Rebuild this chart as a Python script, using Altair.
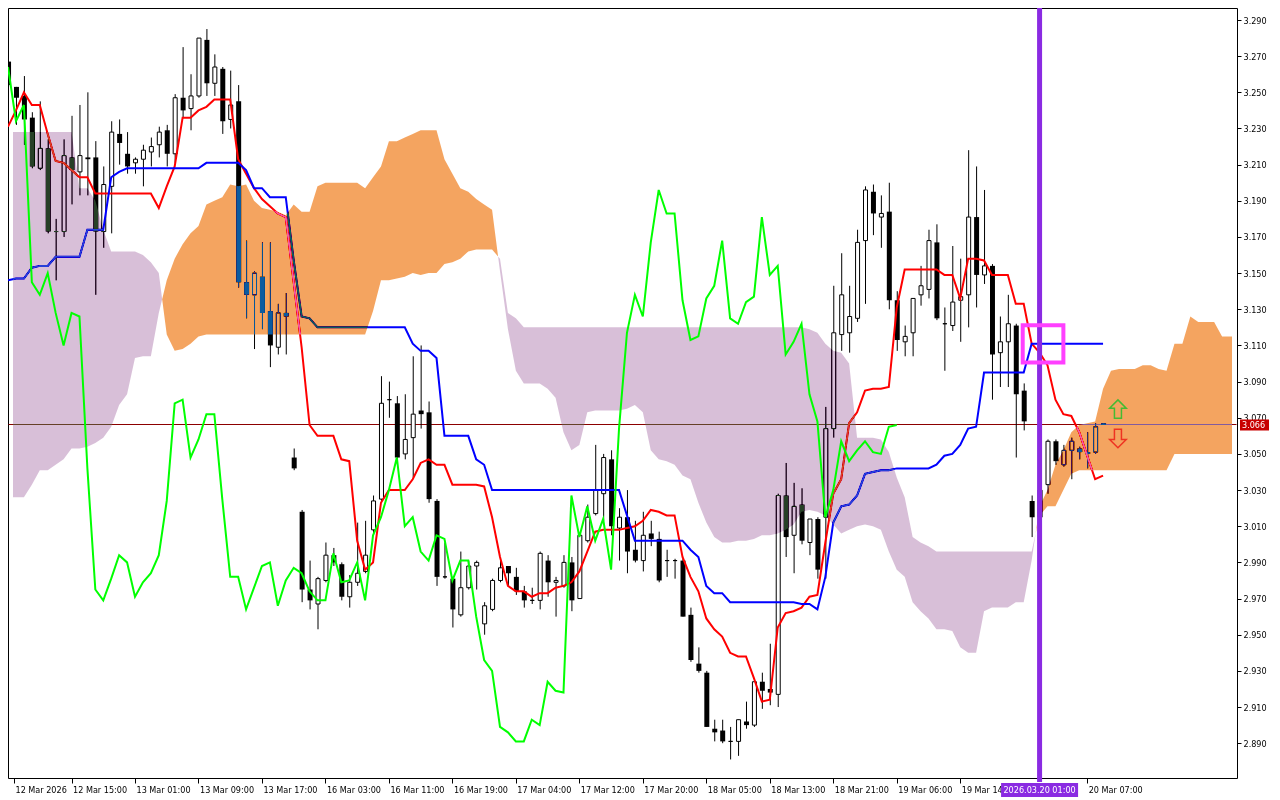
import altair as alt
import pandas as pd

# ---------------- values ----------------
# H1 candles, bar index 0..138
opens = [3.267, 3.253, 3.248, 3.236, 3.208, 3.219, 3.173, 3.173, 3.214, 3.206,
         3.214, 3.214, 3.173, 3.198, 3.227, 3.216, 3.211, 3.213, 3.217, 3.221,
         3.229, 3.216, 3.247, 3.241, 3.248, 3.279, 3.255, 3.263, 3.235, 3.245,
         3.145, 3.138, 3.148, 3.129, 3.109, 3.128, 3.048, 3.018, 2.975, 2.967,
         2.980, 2.994, 2.989, 2.971, 2.979, 2.985, 3.008, 3.025, 3.080, 3.078,
         3.050, 3.059, 3.074, 3.073, 3.024, 2.982, 2.981, 2.961, 2.976, 2.988,
         2.956, 2.964, 2.980, 2.988, 2.982, 2.974, 2.969, 2.969, 2.991, 2.979,
         2.977, 2.990, 2.970, 3.002, 3.017, 3.028, 3.047, 3.009, 3.015, 2.997,
         2.991, 3.006, 3.003, 2.991, 2.991, 2.991, 2.961, 2.934, 2.929, 2.898,
         2.897, 2.891, 2.891, 2.902, 2.900, 2.924, 2.920, 2.917, 3.027, 3.005,
         3.022, 3.001, 3.014, 3.015, 3.064, 3.116, 3.117, 3.125, 3.168, 3.195,
         3.181, 3.184, 3.135, 3.112, 3.117, 3.138, 3.141, 3.167, 3.122, 3.121,
         3.135, 3.138, 3.181, 3.149, 3.154, 3.106, 3.112, 3.121, 3.085, 3.024,
         3.015, 3.033, 3.057, 3.044, 3.052, 3.053, 3.051, 3.051, 3.067]
highs = [3.267, 3.253, 3.259, 3.239, 3.245, 3.224, 3.180, 3.224, 3.237, 3.243,
         3.250, 3.223, 3.209, 3.234, 3.235, 3.228, 3.214, 3.221, 3.225, 3.231,
         3.232, 3.249, 3.275, 3.260, 3.280, 3.285, 3.271, 3.264, 3.262, 3.254,
         3.168, 3.151, 3.167, 3.167, 3.133, 3.139, 3.053, 3.019, 2.991, 2.982,
         3.001, 2.998, 2.990, 2.983, 3.012, 3.013, 3.027, 3.093, 3.090, 3.082,
         3.083, 3.104, 3.110, 3.079, 3.025, 3.001, 2.982, 2.996, 2.991, 2.991,
         2.968, 2.981, 2.991, 2.988, 2.987, 2.977, 2.976, 2.996, 2.994, 2.982,
         2.994, 2.993, 3.005, 3.022, 3.055, 3.050, 3.052, 3.020, 3.030, 3.013,
         3.018, 3.013, 3.007, 2.997, 2.992, 2.992, 2.965, 2.943, 2.930, 2.903,
         2.903, 2.899, 2.903, 2.913, 2.924, 2.929, 2.945, 3.028, 3.045, 3.034,
         3.031, 3.014, 3.015, 3.076, 3.143, 3.161, 3.143, 3.174, 3.198, 3.199,
         3.193, 3.200, 3.140, 3.121, 3.136, 3.154, 3.174, 3.177, 3.131, 3.165,
         3.158, 3.218, 3.209, 3.196, 3.155, 3.126, 3.138, 3.122, 3.089, 3.027,
         3.032, 3.058, 3.058, 3.055, 3.059, 3.054, 3.062, 3.067, 3.067]
lows = [3.253, 3.232, 3.221, 3.208, 3.207, 3.172, 3.146, 3.170, 3.188, 3.193,
        3.193, 3.138, 3.164, 3.172, 3.210, 3.205, 3.205, 3.198, 3.209, 3.214,
        3.209, 3.211, 3.236, 3.229, 3.247, 3.248, 3.248, 3.227, 3.230, 3.142,
        3.125, 3.108, 3.119, 3.098, 3.105, 3.105, 3.041, 2.968, 2.964, 2.953,
        2.979, 2.988, 2.969, 2.965, 2.977, 2.984, 3.005, 3.024, 3.070, 3.046,
        3.047, 3.037, 3.064, 3.023, 2.977, 2.981, 2.954, 2.960, 2.975, 2.975,
        2.950, 2.963, 2.979, 2.977, 2.972, 2.965, 2.967, 2.964, 2.971, 2.960,
        2.976, 2.963, 2.970, 3.001, 3.016, 3.013, 3.005, 2.991, 2.984, 2.990,
        2.985, 2.999, 2.979, 2.982, 2.981, 2.960, 2.935, 2.929, 2.899, 2.891,
        2.890, 2.881, 2.883, 2.898, 2.899, 2.909, 2.911, 2.910, 2.993, 2.984,
        3.000, 2.994, 2.981, 2.981, 3.059, 3.107, 3.106, 3.123, 3.133, 3.171,
        3.164, 3.130, 3.107, 3.104, 3.104, 3.132, 3.136, 3.124, 3.096, 3.118,
        3.112, 3.120, 3.131, 3.144, 3.080, 3.087, 3.087, 3.048, 3.063, 3.004,
        3.008, 3.028, 3.044, 3.043, 3.036, 3.047, 3.042, 3.050, 3.066]
closes = [3.254, 3.247, 3.235, 3.209, 3.219, 3.173, 3.173, 3.215, 3.207, 3.215,
          3.213, 3.173, 3.199, 3.228, 3.222, 3.209, 3.213, 3.218, 3.220, 3.228,
          3.216, 3.247, 3.240, 3.248, 3.280, 3.255, 3.264, 3.234, 3.243, 3.145,
          3.138, 3.150, 3.128, 3.110, 3.128, 3.126, 3.042, 2.975, 2.969, 2.981,
          2.994, 2.990, 2.971, 2.979, 2.984, 2.994, 3.024, 3.078, 3.080, 3.048,
          3.058, 3.072, 3.072, 3.025, 2.982, 2.982, 2.964, 2.976, 2.988, 2.990,
          2.966, 2.980, 2.987, 2.984, 2.974, 2.969, 2.969, 2.995, 2.979, 2.980,
          2.990, 2.969, 3.005, 3.015, 3.030, 3.048, 3.010, 3.015, 2.996, 2.991,
          3.005, 3.003, 2.980, 2.991, 2.991, 2.960, 2.936, 2.930, 2.899, 2.896,
          2.891, 2.891, 2.903, 2.900, 2.924, 2.919, 2.918, 3.027, 3.004, 3.021,
          3.002, 3.014, 2.986, 3.064, 3.117, 3.138, 3.126, 3.167, 3.196, 3.183,
          3.183, 3.135, 3.113, 3.115, 3.136, 3.143, 3.168, 3.125, 3.122, 3.134,
          3.137, 3.181, 3.149, 3.154, 3.105, 3.112, 3.122, 3.083, 3.068, 3.015,
          3.030, 3.057, 3.046, 3.052, 3.057, 3.051, 3.050, 3.065, 3.066]

# Ichimoku lines (Tenkan-sen red, Kijun-sen blue), bar 0..138
tenkan = [3.231, 3.240, 3.250, 3.243, 3.243, 3.227, 3.212, 3.211, 3.207, 3.203,
          3.203, 3.194, 3.194, 3.194, 3.194, 3.194, 3.194, 3.194, 3.194, 3.186,
          3.198, 3.209, 3.236, 3.236, 3.240, 3.242, 3.246, 3.246, 3.246, 3.213,
          3.205, 3.197, 3.191, 3.187, 3.183, 3.181, 3.145, 3.109, 3.066, 3.060,
          3.060, 3.060, 3.047, 3.046, 3.002, 2.986, 2.990, 3.023, 3.030, 3.030,
          3.030, 3.036, 3.045, 3.047, 3.044, 3.044, 3.033, 3.033, 3.033, 3.033,
          3.032, 3.015, 2.993, 2.977, 2.974, 2.974, 2.971, 2.973, 2.973, 2.976,
          2.977, 2.979, 2.985, 2.996, 3.007, 3.008, 3.008, 3.008, 3.009, 3.010,
          3.013, 3.019, 3.018, 3.016, 3.016, 2.993, 2.982, 2.974, 2.959, 2.953,
          2.949, 2.940, 2.938, 2.938, 2.926, 2.913, 2.914, 2.954, 2.962, 2.963,
          2.965, 2.971, 2.972, 3.001, 3.028, 3.036, 3.067, 3.073, 3.085, 3.086,
          3.086, 3.087, 3.131, 3.152, 3.152, 3.152, 3.152, 3.152, 3.149, 3.149,
          3.136, 3.158, 3.158, 3.157, 3.149, 3.149, 3.149, 3.133, 3.133, 3.111,
          3.106, 3.099, 3.080, 3.072, 3.071, 3.062, 3.049, 3.036, 3.038]
kijun = [3.146, 3.147, 3.147, 3.153, 3.154, 3.154, 3.159, 3.159, 3.159, 3.159,
         3.174, 3.174, 3.174, 3.203, 3.206, 3.208, 3.208, 3.208, 3.208, 3.208,
         3.208, 3.208, 3.208, 3.208, 3.208, 3.211, 3.211, 3.211, 3.211, 3.211,
         3.207, 3.197, 3.197, 3.192, 3.192, 3.192, 3.157, 3.126, 3.125, 3.120,
         3.120, 3.120, 3.120, 3.120, 3.120, 3.120, 3.120, 3.120, 3.120, 3.120,
         3.120, 3.111, 3.107, 3.107, 3.103, 3.060, 3.060, 3.060, 3.060, 3.047,
         3.044, 3.030, 3.030, 3.030, 3.030, 3.030, 3.030, 3.030, 3.030, 3.030,
         3.030, 3.030, 3.030, 3.030, 3.030, 3.030, 3.030, 3.030, 3.016, 3.002,
         3.002, 3.002, 3.002, 3.002, 3.002, 3.002, 2.997, 2.993, 2.977, 2.973,
         2.973, 2.968, 2.968, 2.968, 2.968, 2.968, 2.968, 2.968, 2.968, 2.968,
         2.967, 2.967, 2.964, 2.982, 3.012, 3.021, 3.022, 3.027, 3.039, 3.040,
         3.041, 3.041, 3.042, 3.042, 3.042, 3.042, 3.042, 3.044, 3.049, 3.050,
         3.055, 3.064, 3.065, 3.095, 3.095, 3.095, 3.095, 3.095, 3.095, 3.111,
         3.111, 3.111, 3.111, 3.111, 3.111, 3.111, 3.111, 3.111, 3.111]
chikou_shift = 26  # Chikou span = close plotted 26 bars back

# Senkou span A / B, bar 0..155 (projected 26 bars ahead)
span_a = [3.026, 3.026, 3.026, 3.033, 3.041, 3.041, 3.044, 3.047, 3.053, 3.053,
          3.054, 3.056, 3.059, 3.065, 3.077, 3.083, 3.103, 3.104, 3.104, 3.128,
          3.146, 3.158, 3.166, 3.172, 3.176, 3.188, 3.190, 3.192, 3.199, 3.198,
          3.199, 3.190, 3.186, 3.185, 3.184, 3.182, 3.188, 3.184, 3.184, 3.198,
          3.200, 3.200, 3.200, 3.200, 3.200, 3.197, 3.203, 3.209, 3.223, 3.223,
          3.225, 3.227, 3.229, 3.229, 3.229, 3.213, 3.205, 3.197, 3.195, 3.191,
          3.188, 3.185, 3.151, 3.119, 3.096, 3.089, 3.089, 3.089, 3.086, 3.081,
          3.062, 3.052, 3.055, 3.073, 3.074, 3.074, 3.074, 3.074, 3.075, 3.077,
          3.073, 3.052, 3.047, 3.046, 3.044, 3.038, 3.036, 3.023, 3.012, 3.004,
          3.001, 3.001, 3.002, 3.002, 3.003, 3.005, 3.005, 3.006, 3.008, 3.011,
          3.018, 3.019, 3.018, 3.016, 3.011, 3.006, 3.008, 3.010, 3.011, 3.010,
          3.008, 2.996, 2.986, 2.982, 2.968, 2.963, 2.959, 2.953, 2.953, 2.952,
          2.943, 2.940, 2.940, 2.963, 2.965, 2.965, 2.965, 2.968, 2.968, 2.991,
          3.021, 3.030, 3.044, 3.052, 3.062, 3.066, 3.067, 3.068, 3.086, 3.096,
          3.097, 3.097, 3.097, 3.099, 3.099, 3.097, 3.096, 3.111, 3.111, 3.126,
          3.123, 3.123, 3.123, 3.115, 3.115, 3.115]
span_b = [3.228, 3.228, 3.228, 3.228, 3.228, 3.228, 3.228, 3.228, 3.228, 3.197,
          3.197, 3.190, 3.174, 3.162, 3.162, 3.162, 3.162, 3.160, 3.156, 3.150,
          3.116, 3.107, 3.108, 3.111, 3.115, 3.116, 3.116, 3.116, 3.116, 3.116,
          3.116, 3.116, 3.116, 3.116, 3.116, 3.116, 3.116, 3.116, 3.116, 3.116,
          3.116, 3.116, 3.116, 3.116, 3.116, 3.116, 3.129, 3.146, 3.146, 3.147,
          3.148, 3.150, 3.149, 3.150, 3.150, 3.155, 3.156, 3.158, 3.162, 3.163,
          3.163, 3.163, 3.158, 3.128, 3.125, 3.120, 3.120, 3.120, 3.120, 3.120,
          3.120, 3.120, 3.120, 3.120, 3.120, 3.120, 3.120, 3.120, 3.120, 3.120,
          3.120, 3.120, 3.120, 3.120, 3.120, 3.120, 3.120, 3.120, 3.120, 3.120,
          3.120, 3.120, 3.120, 3.120, 3.120, 3.120, 3.120, 3.120, 3.120, 3.120,
          3.120, 3.119, 3.117, 3.111, 3.107, 3.106, 3.100, 3.059, 3.059, 3.059,
          3.058, 3.051, 3.037, 3.026, 3.004, 3.001, 2.999, 2.996, 2.996, 2.996,
          2.996, 2.996, 2.996, 2.996, 2.996, 2.996, 2.996, 2.996, 2.996, 2.996,
          3.016, 3.021, 3.021, 3.030, 3.039, 3.041, 3.041, 3.041, 3.041, 3.041,
          3.041, 3.041, 3.041, 3.041, 3.041, 3.041, 3.041, 3.050, 3.050, 3.050,
          3.050, 3.050, 3.050, 3.050, 3.050, 3.050]

# axis text
tick_bars = [0.75, 8, 16, 24, 32, 40, 48, 56, 64, 72, 80, 88, 96, 104, 112, 120, 136]
tick_labels = ["12 Mar 2026", "12 Mar 15:00", "13 Mar 01:00", "13 Mar 09:00",
               "13 Mar 17:00", "16 Mar 03:00", "16 Mar 11:00", "16 Mar 19:00",
               "17 Mar 04:00", "17 Mar 12:00", "17 Mar 20:00", "18 Mar 05:00",
               "18 Mar 13:00", "18 Mar 21:00", "19 Mar 06:00", "19 Mar 14:00",
               "19 Mar 22:00", "20 Mar 07:00"]
price_ticks = [2.890, 2.910, 2.930, 2.950, 2.970, 2.990, 3.010, 3.030, 3.050, 3.070,
               3.090, 3.110, 3.130, 3.150, 3.170, 3.190, 3.210, 3.230, 3.250, 3.270, 3.290]
last_price = 3.066
marker_bar = 130
marker_label = "2026.03.20 01:00"
box_bars = [127.875, 133.0]
box_prices = [3.1005, 3.1211]
arrow_bars = [139.875, 139.875]
arrow_prices = [3.0748, 3.0585]

# ---------------- layout ----------------
W, H = 1229, 770
X_DOMAIN = [0.625, 154.25]
Y_DOMAIN = [2.87075, 3.29664]
FONT = "DejaVu Sans Condensed, DejaVu Sans, sans-serif"
FS = 9

xs = alt.Scale(domain=X_DOMAIN, nice=False, zero=False)
ys = alt.Scale(domain=Y_DOMAIN, nice=False, zero=False)
label_expr = "[" + ",".join("'%s'" % t for t in tick_labels) + "][round(datum.value/8)]"
x_axis = alt.Axis(values=tick_bars, labelExpr=label_expr, title=None, grid=False,
                  domain=False, tickSize=5, tickColor="black", labelColor="black",
                  labelAlign="left", labelBaseline="top", labelPadding=2, labelOffset=1,
                  labelFontSize=FS, labelFont=FONT, labelOverlap=False,
                  labelFlush=False, labelBound=False)
y_axis = alt.Axis(values=price_ticks, format=".3f", orient="right", title=None,
                  grid=False, domain=False, tickSize=4, tickColor="black",
                  labelColor="black", labelPadding=2, labelFontSize=FS, labelFont=FONT,
                  labelOverlap=False, labelFlush=False, labelBound=False)


def ex(f):
    return alt.X(f, type="quantitative", scale=xs, axis=x_axis)


def ey(f):
    return alt.Y(f, type="quantitative", scale=ys, axis=y_axis)


# candles
n = len(opens)
cdf = pd.DataFrame({"bar": list(range(n)), "open": opens, "high": highs,
                    "low": lows, "close": closes})
bear_df = cdf[cdf["close"] < cdf["open"]]
bull_df = cdf[cdf["close"] >= cdf["open"]]

lines_df = pd.DataFrame({"bar": list(range(n)), "tenkan": tenkan, "kijun": kijun})
chikou_df = pd.DataFrame({"bar": [i - chikou_shift for i in range(chikou_shift, n)],
                          "value": closes[chikou_shift:]})

# cloud: insert crossing points, then cut the band at the plot edges
sx = list(range(len(span_a)))
px, pa, pb = [], [], []
for i in range(len(sx)):
    px.append(sx[i]); pa.append(span_a[i]); pb.append(span_b[i])
    if i + 1 < len(sx):
        d0 = span_a[i] - span_b[i]
        d1 = span_a[i + 1] - span_b[i + 1]
        if d0 * d1 < 0:
            t = d0 / (d0 - d1)
            yc = span_a[i] + t * (span_a[i + 1] - span_a[i])
            px.append(sx[i] + t); pa.append(yc); pb.append(yc)
rows = []
for i in range(len(px)):
    if X_DOMAIN[0] <= px[i] <= X_DOMAIN[1]:
        rows.append((px[i], pa[i], pb[i]))
    if i + 1 < len(px):
        for edge in X_DOMAIN:
            if px[i] < edge < px[i + 1]:
                t = (edge - px[i]) / (px[i + 1] - px[i])
                rows.append((edge, pa[i] + t * (pa[i + 1] - pa[i]),
                             pb[i] + t * (pb[i + 1] - pb[i])))
rows.sort(key=lambda r: r[0])
cloud_df = pd.DataFrame(rows, columns=["x", "a", "b"])
cloud_df["lo"] = cloud_df[["a", "b"]].min(axis=1)

# ---------------- layers ----------------
# current-price line, snapped to a pixel row so it stays a crisp 1px line
py = (Y_DOMAIN[1] - last_price) / (Y_DOMAIN[1] - Y_DOMAIN[0]) * H
snap = (int(py) + 0.5) - py
price_line = alt.Chart(pd.DataFrame({"p": [last_price]})).mark_rule(
    color="#8C0000", strokeWidth=1, yOffset=snap).encode(
    y=ey("p"), x=alt.value(0.5), x2=alt.value(W - 0.5))

wicks = alt.Chart(cdf).mark_rule(color="black", strokeWidth=1, xOffset=0.5, clip=True).encode(
    x=ex("bar"), y=ey("low"), y2="high")
bear = alt.Chart(bear_df).mark_bar(color="black", size=5, xOffset=0.5, clip=True).encode(
    x=ex("bar"), y=ey("open"), y2="close")
bull = alt.Chart(bull_df).mark_bar(fill="white", stroke="black", strokeWidth=1, size=4,
                                   xOffset=0.5, clip=True).encode(
    x=ex("bar"), y=ey("open"), y2="close")

tenkan_l = alt.Chart(lines_df).mark_line(color="#FF0000", strokeWidth=2, clip=True).encode(
    x=ex("bar"), y=ey("tenkan"))
kijun_l = alt.Chart(lines_df).mark_line(color="#0000FF", strokeWidth=2, clip=True).encode(
    x=ex("bar"), y=ey("kijun"))

# filled cloud drawn in "difference" mode (inverse colours give sandybrown / thistle on white)
cloud_up = alt.Chart(cloud_df).mark_area(color="#0B5B9F", blend="difference").encode(
    x=ex("x"), y=ey("a"), y2="lo")
cloud_dn = alt.Chart(cloud_df).mark_area(color="#274027", blend="difference").encode(
    x=ex("x"), y=ey("b"), y2="lo")

chikou_l = alt.Chart(chikou_df).mark_line(color="#00FF00", strokeWidth=2, clip=True).encode(
    x=ex("bar"), y=ey("value"))

mk_df = pd.DataFrame({"bar": [marker_bar], "t": [marker_label]})
vline = alt.Chart(mk_df).mark_bar(color="#8A2BE2", size=5).encode(
    x=ex("bar"), y=alt.value(0), y2=alt.value(H + 4))

box = alt.Chart(pd.DataFrame({"x1": [box_bars[0]], "x2": [box_bars[1]],
                              "p1": [box_prices[0]], "p2": [box_prices[1]]})).mark_rect(
    fillOpacity=0, stroke="#FF40FF", strokeWidth=4).encode(
    x=ex("x1"), x2="x2", y=ey("p1"), y2="p2")

up_shape = "M0,-1L0.9,-0.1L0.38,-0.1L0.38,1L-0.38,1L-0.38,-0.1L-0.9,-0.1Z"
dn_shape = "M0,1L0.9,0.1L0.38,0.1L0.38,-1L-0.38,-1L-0.38,0.1L-0.9,0.1Z"
arrow_up = alt.Chart(pd.DataFrame({"bar": [arrow_bars[0]], "p": [arrow_prices[0]]})).mark_point(
    shape=up_shape, filled=False, size=340, stroke="#44BB33", strokeWidth=1.5, opacity=1).encode(
    x=ex("bar"), y=ey("p"))
arrow_dn = alt.Chart(pd.DataFrame({"bar": [arrow_bars[1]], "p": [arrow_prices[1]]})).mark_point(
    shape=dn_shape, filled=False, size=340, stroke="#EE3322", strokeWidth=1.5, opacity=1).encode(
    x=ex("bar"), y=ey("p"))

tag_df = pd.DataFrame({"p": [last_price], "t": ["%.3f" % last_price]})
tag_shape = "M-1,-0.38L1,-0.38L1,0.38L-1,0.38Z"
price_tag = alt.Chart(tag_df).mark_point(shape=tag_shape, filled=True, size=841,
                                         color="#C80000", opacity=1, strokeWidth=0).encode(
    y=ey("p"), x=alt.value(W + 17.5))
price_txt = alt.Chart(tag_df).mark_text(color="white", align="left", baseline="middle",
                                        font=FONT, fontSize=FS).encode(
    y=ey("p"), x=alt.value(W + 5), text="t:N")

date_tag = alt.Chart(mk_df).mark_bar(color="#8A2BE2", size=77).encode(
    x=ex("bar"), y=alt.value(H + 5), y2=alt.value(H + 19))
date_txt = alt.Chart(mk_df).mark_text(color="white", align="center", baseline="middle",
                                      font=FONT, fontSize=FS).encode(
    x=ex("bar"), y=alt.value(H + 12), text="t:N")

chart = alt.layer(
    price_line, wicks, bear, bull, tenkan_l, kijun_l, cloud_up, cloud_dn, chikou_l,
    vline, box, arrow_up, arrow_dn, price_tag, price_txt, date_tag, date_txt
).properties(
    width=W, height=H,
    padding={"left": 0, "top": 0, "right": 0, "bottom": 0},
).configure(background="white", font=FONT).configure_view(
    stroke="black", strokeWidth=1, fill="white")

chart.save("out.html", embed_options={"renderer": "svg", "actions": False})
